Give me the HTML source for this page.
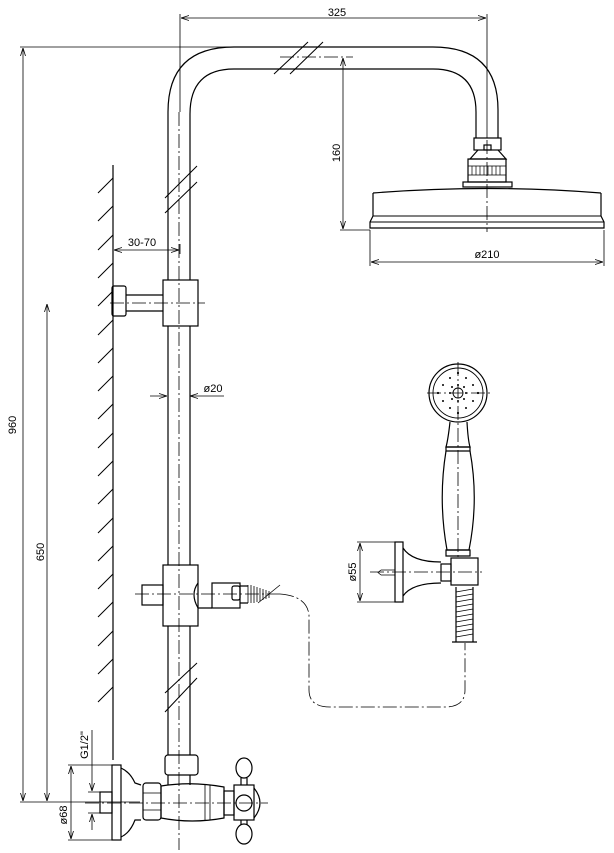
<!DOCTYPE html>
<html><head><meta charset="utf-8"><style>
html,body{margin:0;padding:0;background:#fff}
svg{display:block}
text{font-family:"Liberation Sans",sans-serif;font-size:11px;fill:#000}
</style></head><body>
<svg width="614" height="853" viewBox="0 0 614 853" xmlns="http://www.w3.org/2000/svg">
<defs><marker id="a" markerWidth="8" markerHeight="6" refX="8" refY="3" orient="auto-start-reverse" markerUnits="userSpaceOnUse"><path d="M0,0.5 L8,3 L0,5.5" fill="none" stroke="#000" stroke-width="0.8"/></marker></defs>
<g fill="none" stroke="#000" stroke-width="1.2">
<path d="M168,280 V112 Q168,47 234,47 H433 Q498,47 498,110 V138"/>
<path d="M190,280 V114 Q190,69 234,69 H433 Q476,69 476,112 V138"/>
<path d="M168,326 V565 M190,326 V565 M168,626 V755 M190,626 V755"/>
<g stroke-width="1">
<path d="M274,74 L308,42 M290,74 L323,42"/>
<path d="M165,198 L197,166 M165,213 L197,182"/>
<path d="M165,693 L197,663 M165,712 L197,678"/>
</g>
<rect x="474" y="138" width="27" height="12"/>
<rect x="484" y="145" width="7" height="5"/>
<path d="M478,150 L470,159 H506 L498,150"/>
<rect x="468" y="159" width="38" height="23"/>
<path d="M468,166 H506 M468,175 H506" stroke-width="0.8"/>
<path d="M472,166 V175 M476,166 V175 M480,166 V175 M484,166 V175 M488,166 V175 M492,166 V175 M496,166 V175 M500,166 V175" stroke-width="0.7"/>
<rect x="463" y="182" width="49" height="5"/>
<path d="M373,193 Q487,184 601,193"/>
<path d="M373,193 V216 L370,222 V228 H604 V222 L601,216 V193"/>
<path d="M373,216 H601 M370,222 H604" stroke-width="0.9"/>
<path d="M113,165 V760"/>
<rect x="163" y="280" width="35" height="46"/>
<rect x="112" y="286" width="14" height="30" rx="2"/>
<path d="M126,295 H163 M126,311 H163"/>
<rect x="163" y="565" width="35" height="61"/>
<rect x="142" y="585" width="21" height="20"/>
<path d="M198,583 Q190,594 198,608 H212"/>
<rect x="212" y="583" width="28" height="25"/>
<rect x="232" y="586" width="8" height="14" rx="2"/>
<path d="M248,585 V603 M251,585 V603 M254,586 V603 M257,587 V602 M260,588 V601 M263,589 V600 M266,590 V599 M269,591 V598" stroke-width="0.8"/>
<path d="M258,603 L280,585" stroke-width="0.8"/>
<path d="M240,586 H248 M240,603 H248"/>
<circle cx="458" cy="393" r="29"/>
<circle cx="458" cy="393" r="25" stroke-width="0.9"/>
<circle cx="458" cy="393" r="5" stroke-width="0.9"/>
<path d="M450,422 Q448,440 446,447 H470 Q468,440 467,422"/>
<path d="M446,447 H470 V451 H446 Z"/>
<path d="M446,451 Q438,500 447,550 H469 Q479,500 470,451"/>
<path d="M446,550 H470 V556 H446 Z"/>
<rect x="451" y="558" width="27" height="27"/>
<rect x="395" y="542" width="8" height="60"/>
<path d="M403,548 Q412,562 441,562 M403,596 Q412,583 441,583"/>
<rect x="441" y="564" width="10" height="17"/>
<path d="M381,570 H395 M381,575 H395 M381,570 L378,572.5 L381,575" stroke-width="0.8"/>
<path d="M456,587 V642 M473,587 V642 M452,642 H477"/>
<path d="M456,592 L473,589 M456,597 L473,594 M456,602 L473,599 M456,607 L473,604 M456,612 L473,609 M456,617 L473,614 M456,622 L473,619 M456,627 L473,624 M456,632 L473,629 M456,637 L473,634" stroke-width="0.8"/>
<rect x="112" y="765" width="9" height="75"/>
<path d="M121,768 Q130,772 135,783 L141,785 M121,837 Q130,833 135,820 L141,820"/>
<rect x="100" y="792" width="12" height="21"/>
<rect x="143" y="783" width="18" height="37" rx="3"/>
<path d="M143,793 H161 M143,810 H161" stroke-width="0.8"/>
<rect x="165" y="755" width="33" height="20" rx="3"/>
<path d="M168,775 V785 M190,775 V785"/>
<path d="M161,786 Q192,781 224,787 V818 Q192,824 161,818 Z"/>
<path d="M205,785 V820 M210,785 V820" stroke-width="0.8"/>
<rect x="224" y="791" width="10" height="24"/>
<rect x="234" y="785" width="20" height="35"/>
<circle cx="244" cy="803" r="8"/>
<path d="M254,788 Q266,803 254,818"/>
<ellipse cx="244" cy="768" rx="8" ry="10"/>
<path d="M241,778 V785 M247,778 V785 M241,820 V825 M247,820 V825"/>
<ellipse cx="244" cy="834" rx="8" ry="10"/>
</g>
<g stroke="#000" stroke-width="1">
<path d="M98,193 L113,178 M98,221 L113,206 M98,250 L113,235 M98,278 L113,263 M98,306 L113,291 M98,335 L113,320 M98,363 L113,348 M98,391 L113,376 M98,419 L113,404 M98,448 L113,433 M98,476 L113,461 M98,504 L113,489 M98,533 L113,518 M98,561 L113,546 M98,589 L113,574 M98,617 L113,602 M98,646 L113,631 M98,674 L113,659 M98,702 L113,687"/>
</g>
<g fill="none" stroke="#000" stroke-width="0.8" stroke-dasharray="14,3,2,3">
<path d="M179,112 V850"/>
<path d="M280,57 H353"/>
<path d="M487,140 V232"/>
<path d="M110,303 H205"/>
<path d="M135,594 H280"/>
<path d="M280,594 Q307,596 309,615 V690 Q309,707 330,707 H445 Q465,707 465,690 V643"/>
<path d="M370,572 H482"/>
<path d="M458,362 V560"/>
<path d="M427,393 H490"/>
<path d="M85,803 H268"/>
</g>
<g fill="#000">
<circle cx="458" cy="373" r="1.1"/><circle cx="458" cy="413" r="1.1"/><circle cx="438" cy="393" r="1.1"/><circle cx="478" cy="393" r="1.1"/>
<circle cx="450" cy="378" r="1"/><circle cx="466" cy="378" r="1"/><circle cx="450" cy="408" r="1"/><circle cx="466" cy="408" r="1"/>
<circle cx="443" cy="385" r="1"/><circle cx="473" cy="385" r="1"/><circle cx="443" cy="401" r="1"/><circle cx="473" cy="401" r="1"/>
<circle cx="450" cy="393" r="1"/><circle cx="466" cy="393" r="1"/><circle cx="458" cy="385" r="1"/><circle cx="458" cy="401" r="1"/>
<circle cx="452" cy="387" r="1"/><circle cx="464" cy="387" r="1"/><circle cx="452" cy="399" r="1"/><circle cx="464" cy="399" r="1"/>
</g>
<g fill="none" stroke="#000" stroke-width="0.8">
<path d="M180,14 V112 M180,244 V254 M487,14 V138"/>
<path d="M181,18 H486" marker-start="url(#a)" marker-end="url(#a)"/>
<path d="M20,47 H234"/>
<path d="M23,48 V801" marker-start="url(#a)" marker-end="url(#a)"/>
<path d="M20,802 H140"/>
<path d="M47,304 V801" marker-start="url(#a)" marker-end="url(#a)"/>
<path d="M343,58 V229" marker-start="url(#a)" marker-end="url(#a)"/>
<path d="M340,230 H370"/>
<path d="M370,230 V266 M604,230 V266"/>
<path d="M371,262 H603" marker-start="url(#a)" marker-end="url(#a)"/>
<path d="M114,250 H179" marker-start="url(#a)" marker-end="url(#a)"/>
<path d="M150,396 H167" marker-end="url(#a)"/>
<path d="M224,396 H190" marker-end="url(#a)"/>
<path d="M357,542 H395 M357,602 H395"/>
<path d="M360,543 V601" marker-start="url(#a)" marker-end="url(#a)"/>
<path d="M68,765 H112 M68,840 H112"/>
<path d="M71,766 V839" marker-start="url(#a)" marker-end="url(#a)"/>
<path d="M88,792 H100 M88,813 H100"/>
<path d="M92,730 V791" marker-end="url(#a)"/>
<path d="M92,830 V814" marker-end="url(#a)"/>
</g>
<text x="337" y="16" text-anchor="middle">325</text>
<text x="487" y="258" text-anchor="middle">ø210</text>
<text x="142" y="246" text-anchor="middle">30-70</text>
<text x="213" y="392" text-anchor="middle">ø20</text>
<text transform="translate(340,153) rotate(-90)" text-anchor="middle">160</text>
<text transform="translate(16,425) rotate(-90)" text-anchor="middle">960</text>
<text transform="translate(44,552) rotate(-90)" text-anchor="middle">650</text>
<text transform="translate(356,572) rotate(-90)" text-anchor="middle">ø55</text>
<text transform="translate(67,815) rotate(-90)" text-anchor="middle">ø68</text>
<text transform="translate(88,745) rotate(-90)" text-anchor="middle">G1/2"</text>
</svg>
</body></html>
